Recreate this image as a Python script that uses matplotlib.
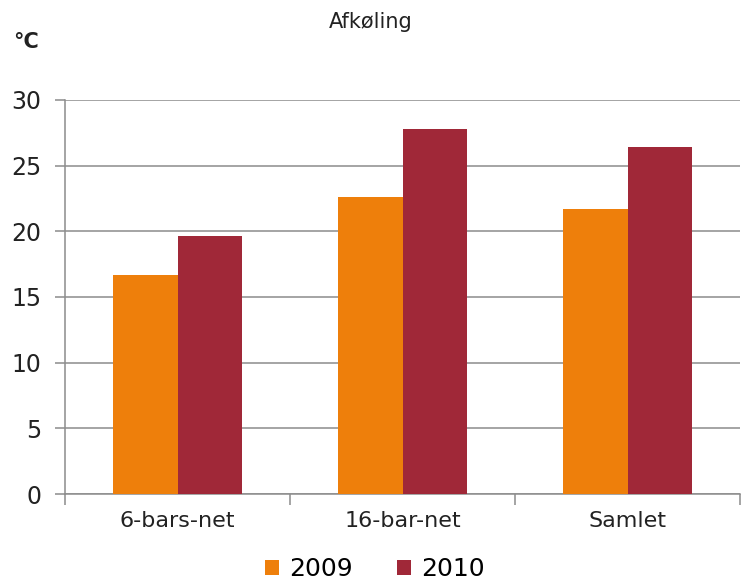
import numpy as np
import matplotlib
matplotlib.use("Agg")
import matplotlib.pyplot as plt

# data
categories = ["6-bars-net", "16-bar-net", "Samlet"]
years = ["2009", "2010"]
values_2009 = [16.64, 22.6, 21.73]
values_2010 = [19.63, 27.77, 26.45]

orange = "#EE7F0B"
red = "#A02838"
grid_col = "#8C8C8C"

fig = plt.figure(figsize=(7.47, 5.84), dpi=100)
ax = fig.add_axes([0.087, 0.154, 0.904, 0.675])

x = np.arange(len(categories))
w = 0.287
ax.bar(x - w / 2, values_2009, w, color=orange, label=years[0], zorder=3)
ax.bar(x + w / 2, values_2010, w, color=red, label=years[1], zorder=3)

ax.set_xlim(-0.5, len(categories) - 0.5)
ax.set_ylim(0, 30)
ax.set_yticks(np.arange(0, 31, 5))
ax.yaxis.grid(True, color=grid_col, linewidth=1.1, zorder=0)

# ticks between categories, labels centred under groups
ax.set_xticks(np.arange(-0.5, len(categories), 1.0))
ax.set_xticklabels([])
ax.set_xticks(x, minor=True)
ax.set_xticklabels(categories, minor=True)
ax.tick_params(axis="x", which="major", length=8, color=grid_col, width=1.1)
ax.tick_params(axis="x", which="minor", length=0, pad=12, labelsize=16,
               labelcolor="#222222")
ax.tick_params(axis="y", length=7, color=grid_col, width=1.1, labelsize=17,
               labelcolor="#222222", pad=10)

for s in ["top", "right"]:
    ax.spines[s].set_visible(False)
for s in ["left", "bottom"]:
    ax.spines[s].set_color(grid_col)
    ax.spines[s].set_linewidth(1.1)

fig.text(0.496, 0.962, "Afkøling", ha="center", va="center", fontsize=15,
         color="#222222")
fig.text(0.018, 0.928, "°C", ha="left", va="center", fontsize=15,
         fontweight="bold", color="#222222")

ax.legend(loc="center", bbox_to_anchor=(0.459, -0.19), ncol=2, frameon=False,
          fontsize=18, handlelength=0.55, handleheight=0.55, columnspacing=1.8,
          handletextpad=0.4)

fig.savefig("out.png", dpi=100)
